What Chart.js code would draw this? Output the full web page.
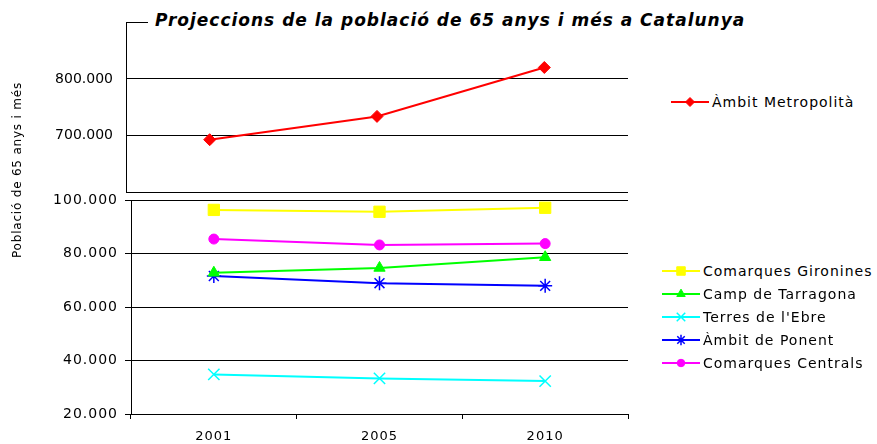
<!DOCTYPE html>
<html>
<head>
<meta charset="utf-8">
<script src="https://cdn.jsdelivr.net/npm/chart.js@4.4.1/dist/chart.umd.min.js"></script>
<style>
  body { margin: 0; background: #fff; }
  #wrap { position: relative; width: 877px; height: 444px; overflow: hidden; font-family: "DejaVu Sans", Verdana, sans-serif; color: #000; }
  #cTop { position: absolute; left: 0; top: 0; }
  #cBot { position: absolute; left: 0; top: 184px; }
  #title { position: absolute; left: 148px; top: 8px; padding: 0 7px; background: #fff; font: italic bold 17px "DejaVu Sans"; letter-spacing: 1px; line-height: 24px; white-space: nowrap; }
  #ytitle { position: absolute; left: -83px; top: 162px; width: 200px; text-align: center; font-size: 12px; letter-spacing: 0.8px; line-height: 16px; transform: rotate(-90deg); white-space: nowrap; }
  .leg { position: absolute; height: 16px; display: flex; align-items: center; font-size: 14px; letter-spacing: 1px; white-space: nowrap; }
  .leg canvas { margin-right: 3px; }
</style>
</head>
<body>
<div id="wrap">
  <canvas id="cTop" width="640" height="214"></canvas>
  <canvas id="cBot" width="640" height="260"></canvas>
  <div id="title">Projeccions de la població de 65 anys i més a Catalunya</div>
  <div id="ytitle">Població de 65 anys i més</div>
</div>
<script>
// dades (llegides del gràfic)
const years = ['2001', '2005', '2010'];
const metropolita = [693000, 734000, 820000];
const gironines = [96300, 95600, 97100];
const tarragona = [72800, 74600, 78600];
const ebre = [34800, 33300, 32300];
const ponent = [71600, 68900, 67900];
const centrals = [85400, 83200, 83700];

const topTicks = [600000, 700000, 800000, 900000];
const topTickLabels = ['', '700.000', '800.000', ''];
const botTicks = [20000, 40000, 60000, 80000, 100000];
const botTickLabels = ['20.000', '40.000', '60.000', '80.000', '100.000'];

const serie = (label, data, color, style, radius, bw) => ({
  label, data,
  borderColor: color, backgroundColor: color,
  pointBackgroundColor: color, pointBorderColor: color,
  borderWidth: 2, pointStyle: style, pointRadius: radius, pointBorderWidth: bw || 1,
  tension: 0, clip: false
});

const tickFont = { family: 'DejaVu Sans', size: 14 };

// panell superior (la y-axis posa ~21px de marge a baix per la meitat de l'etiqueta + padding)
const topChart = new Chart(document.getElementById('cTop'), {
  type: 'line',
  data: {
    labels: years,
    datasets: [serie('Àmbit Metropolità', metropolita, '#ff0000', 'rectRot', 6)]
  },
  options: {
    responsive: false,
    animation: false,
    layout: { padding: { top: 22, right: 12, bottom: 0, left: 0 } },
    plugins: { legend: { display: false }, tooltip: { enabled: false } },
    scales: {
      x: { display: false, offset: true },
      y: {
        min: 600000, max: 900000,
        afterFit: s => { s.width = 126; },
        afterBuildTicks: s => { s.ticks = topTicks.map(v => ({ value: v })); },
        ticks: { padding: 13, color: '#000', font: tickFont,
          callback: v => topTickLabels[topTicks.indexOf(v)] },
        grid: { color: '#000', lineWidth: 1, drawTicks: false },
        border: { color: '#000', width: 1 }
      }
    }
  }
});

// panell inferior
const botChart = new Chart(document.getElementById('cBot'), {
  type: 'line',
  data: {
    labels: years,
    datasets: [
      serie('Comarques Gironines', gironines, '#ffff00', 'rect', 8),
      serie('Camp de Tarragona', tarragona, '#00ff00', 'triangle', 6.5),
      serie("Terres de l'Ebre", ebre, '#00ffff', 'crossRot', 8, 1.5),
      serie('Àmbit de Ponent', ponent, '#0000ff', 'star', 7, 1.5),
      serie('Comarques Centrals', centrals, '#ff00ff', 'circle', 5)
    ]
  },
  plugins: [{
    id: 'espai',
    beforeDraw(chart) { chart.ctx.letterSpacing = '1px'; }
  }],
  options: {
    responsive: false,
    animation: false,
    layout: { padding: { top: 16, right: 12, bottom: 0, left: 0 } },
    plugins: { legend: { display: false }, tooltip: { enabled: false } },
    scales: {
      x: {
        offset: true,
        afterFit: s => { s.height = 30; },
        ticks: { padding: 10, color: '#000', font: { family: 'DejaVu Sans', size: 13 } },
        grid: { offset: true, drawOnChartArea: false, drawTicks: true, tickLength: 5, color: '#000' },
        border: { color: '#000', width: 1 }
      },
      y: {
        min: 20000, max: 100000,
        afterFit: s => { s.width = 131; },
        afterBuildTicks: s => { s.ticks = botTicks.map(v => ({ value: v })); },
        ticks: { padding: 7, color: '#000', font: tickFont,
          callback: v => botTickLabels[botTicks.indexOf(v)] },
        grid: { color: '#000', lineWidth: 1, tickLength: 6 },
        border: { color: '#000', width: 1 }
      }
    }
  }
});

// llegenda en HTML amb mostra de línia + marcador
const wrap = document.getElementById('wrap');
function legendItem(ds, left, centerY) {
  const div = document.createElement('div');
  div.className = 'leg';
  div.style.left = left + 'px';
  div.style.top = (centerY - 8) + 'px';
  const c = document.createElement('canvas');
  c.width = 38; c.height = 16;
  const ctx = c.getContext('2d');
  ctx.strokeStyle = ds.borderColor;
  ctx.fillStyle = ds.borderColor;
  ctx.lineWidth = 2;
  ctx.beginPath(); ctx.moveTo(0, 8); ctx.lineTo(38, 8); ctx.stroke();
  ctx.lineWidth = ds.pointBorderWidth;
  if (Chart.helpers && Chart.helpers.drawPoint) {
    Chart.helpers.drawPoint(ctx, { pointStyle: ds.pointStyle, rotation: 0, radius: ds.pointRadius * 0.75, borderWidth: ds.pointBorderWidth }, 19, 8);
  }
  const span = document.createElement('span');
  span.textContent = ds.label;
  div.appendChild(c);
  div.appendChild(span);
  wrap.appendChild(div);
}
legendItem(topChart.data.datasets[0], 671, 102);
const rows = [271, 294, 317, 340, 363];
botChart.data.datasets.forEach((ds, i) => legendItem(ds, 662, rows[i]));
</script>
</body>
</html>
